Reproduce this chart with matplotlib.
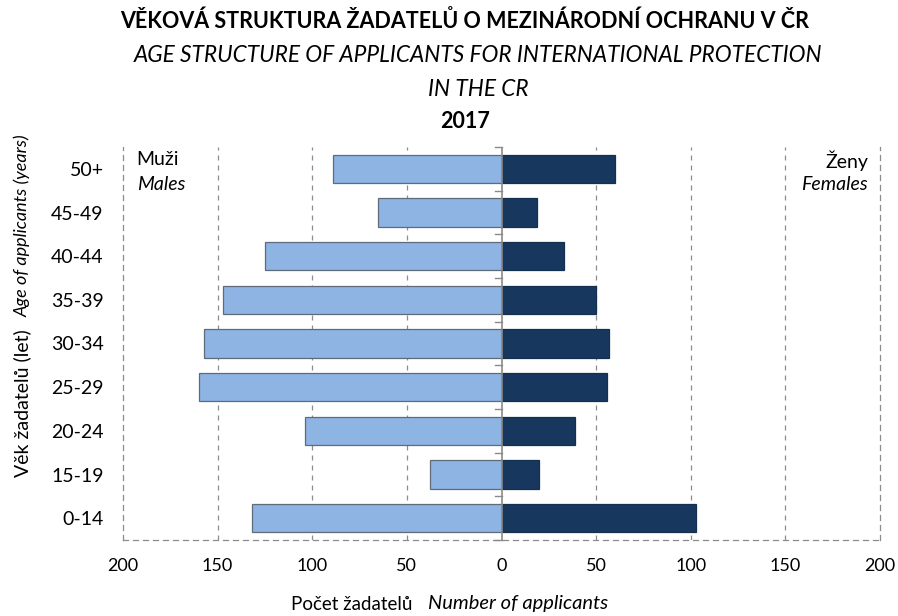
import matplotlib
matplotlib.use("Agg")
import matplotlib.pyplot as plt
import numpy as np

plt.rcParams['font.family'] = ['Lato', 'DejaVu Sans']

# data (bottom to top)
ages = ['0-14', '15-19', '20-24', '25-29', '30-34', '35-39', '40-44', '45-49', '50+']
males = [132, 38, 104, 160, 157, 147, 125, 65, 89]
females = [103, 20, 39, 56, 57, 50, 33, 19, 60]
xticks = [-200, -150, -100, -50, 0, 50, 100, 150, 200]

light = '#8DB4E2'
dark = '#17375E'
grid_c = '#8c8c8c'

fig = plt.figure(figsize=(8.98, 6.16), dpi=100)
ax = fig.add_axes([123/898, 1 - 540/616, (880 - 123)/898, (540 - 147)/616])

y = np.arange(len(ages))
ax.barh(y, -np.array(males), height=0.65, color=light, edgecolor='#5f6b78', linewidth=0.9, zorder=3)
ax.barh(y, females, height=0.65, color=dark, edgecolor='#14304f', linewidth=0.9, zorder=3)

ax.set_xlim(-200, 200)
ax.set_ylim(-0.5, len(ages) - 0.5)

# dashed grid
for g in [-150, -100, -50, 50, 100, 150]:
    ax.axvline(g, color=grid_c, ls=(0, (4, 4)), lw=0.9, zorder=1)
ax.axvline(0, color='#8a8a8a', lw=1.2, zorder=4)
for b in np.arange(-0.5, len(ages), 1.0):
    ax.plot([-3.5, 0], [b, b], color='#8a8a8a', lw=1.0, zorder=4, clip_on=False)

for s in ['left', 'right', 'bottom']:
    ax.spines[s].set_color(grid_c)
    ax.spines[s].set_linestyle((0, (4, 4)))
    ax.spines[s].set_linewidth(0.9)
ax.spines['top'].set_visible(False)

ax.set_yticks(y)
ax.set_yticklabels(ages, fontsize=14)
ax.set_xticks(xticks)
ax.set_xticklabels([str(abs(v)) for v in xticks], fontsize=13)
ax.tick_params(axis='y', length=0, pad=14)
ax.tick_params(axis='x', length=0, pad=13)

# labels inside plot
ax.text(0.018, 0.99, 'Muži', transform=ax.transAxes, fontsize=14, va='top', ha='left')
ax.text(0.018, 0.925, 'Males', transform=ax.transAxes, fontsize=14, va='top', ha='left', style='italic')
ax.text(0.984, 0.99, 'Ženy', transform=ax.transAxes, fontsize=14, va='top', ha='right')
ax.text(0.984, 0.925, 'Females', transform=ax.transAxes, fontsize=14, va='top', ha='right', style='italic')

# titles
fig.text(465/898, 1 - 21/616, 'VĚKOVÁ STRUKTURA ŽADATELŮ O MEZINÁRODNÍ OCHRANU V ČR',
         ha='center', va='center', fontsize=15.5, fontweight='bold')
fig.text(478/898, 1 - 56/616, 'AGE STRUCTURE OF APPLICANTS FOR INTERNATIONAL PROTECTION',
         ha='center', va='center', fontsize=16.3, style='italic')
fig.text(478/898, 1 - 89/616, 'IN THE CR', ha='center', va='center', fontsize=16.3, style='italic')
fig.text(465/898, 1 - 121/616, '2017', ha='center', va='center', fontsize=15.5, fontweight='bold')

# x axis label
fig.text(412/898, 1 - 604/616, 'Počet žadatelů', ha='right', va='center', fontsize=13.5)
fig.text(428/898, 1 - 604/616, 'Number of applicants', ha='left', va='center', fontsize=14.5, style='italic')

# y axis label
fig.text(22/898, 1 - 477/616, 'Věk žadatelů (let)', ha='center', va='bottom', rotation=90, fontsize=14)
fig.text(22/898, 1 - 317/616, 'Age of applicants (years)', ha='center', va='bottom', rotation=90,
         fontsize=13, style='italic')

fig.savefig('out.png', dpi=100)
